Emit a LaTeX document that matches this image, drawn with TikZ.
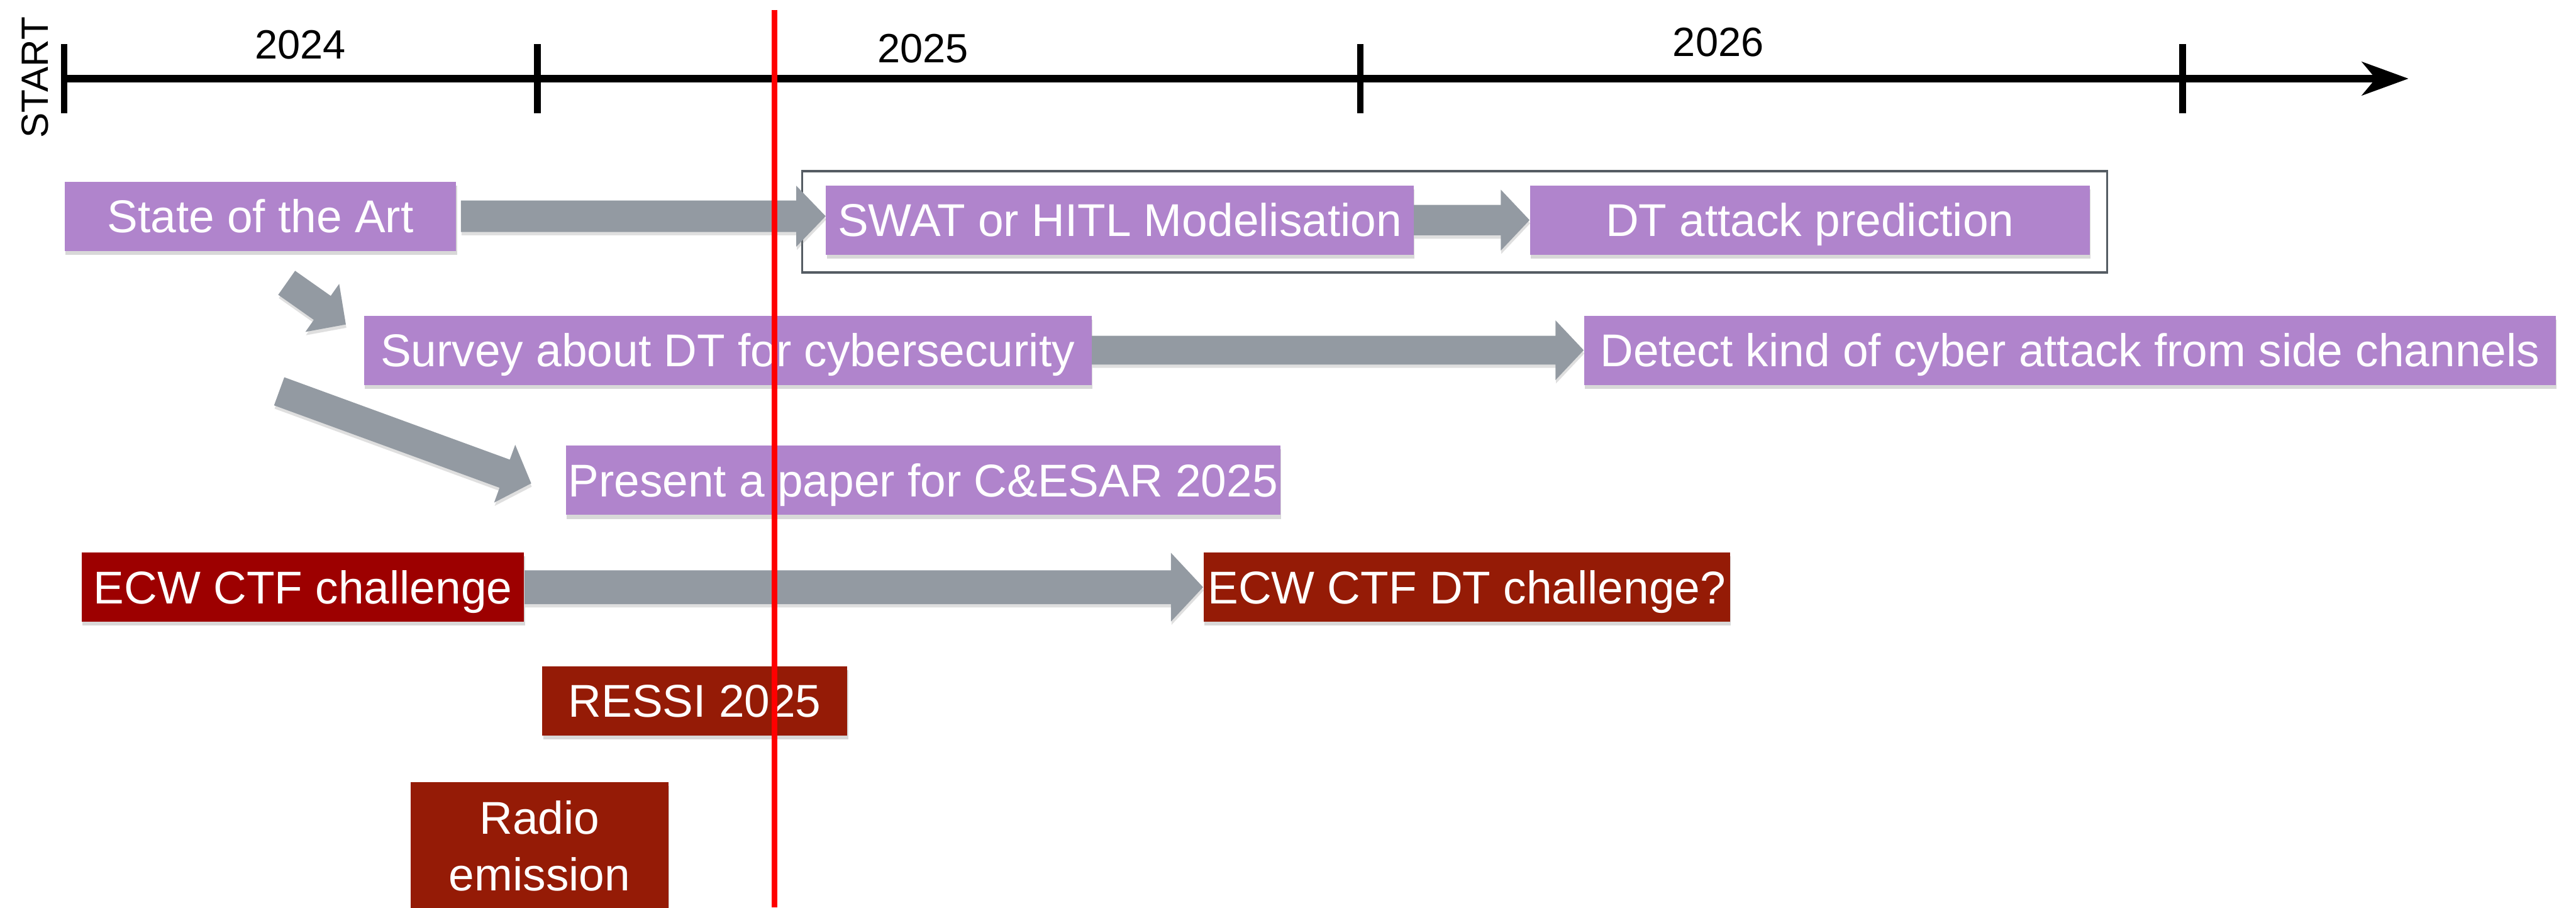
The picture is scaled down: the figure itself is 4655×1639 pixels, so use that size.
\documentclass[tikz,border=0pt]{standalone}
\usepackage{fontspec}
\setmainfont{Liberation Sans}
\usetikzlibrary{calc,shadows}
\definecolor{purp}{HTML}{B084CC}
\definecolor{agray}{HTML}{939AA2}
\definecolor{redA}{HTML}{9D0000}
\definecolor{redB}{HTML}{951B06}
\definecolor{framegray}{HTML}{555C63}
\definecolor{nowred}{HTML}{FF0000}
\newcommand\boxfont{\fontsize{23.6pt}{28pt}\selectfont}
\newcommand\yearfont{\fontsize{21pt}{25pt}\selectfont}
% #1 tail, #2 tip, #3 body half width, #4 head half width, #5 head length
\newcommand\fatarrow[5]{%
  \coordinate (fa-h) at ($(#2)!#5!(#1)$);
  \fill[arrowbody] ($(#1)!#3!90:(#2)$) -- ($(fa-h)!#3!90:(#2)$) -- ($(fa-h)!#4!90:(#2)$) -- (#2)
    -- ($(fa-h)!#4!-90:(#2)$) -- ($(fa-h)!#3!-90:(#2)$) -- ($(#1)!#3!-90:(#2)$) -- cycle;}
\begin{document}
\begin{tikzpicture}[x=0.01cm, y=-0.01cm,
  box/.style={rectangle, inner sep=0pt, minimum height=1.25cm, text=white, font=\boxfont,
    text height=16.9pt, text depth=0pt,
    drop shadow={shadow xshift=0.015cm, shadow yshift=-0.07cm, opacity=0.3}},
  pbox/.style={box, fill=purp},
  rboxA/.style={box, fill=redA},
  rboxB/.style={box, fill=redB},
  arrowbody/.style={fill=agray, drop shadow={shadow xshift=0.01cm, shadow yshift=-0.06cm, opacity=0.25}},
  year/.style={font=\yearfont, text height=15.1pt, text depth=0pt, inner sep=0pt},
  tickmark/.style={line width=0.12cm},
]
\useasboundingbox (0,0) rectangle (4655,1639);
\clip (0,0) rectangle (4655,1639);
\fill[white] (0,0) rectangle (4655,1639);

% group frame
\node[draw=framegray, line width=0.04cm, minimum width=23.57cm, minimum height=1.83cm, inner sep=0pt] (grp) at (2628.5,400.5) {};

% boxes
\node[pbox, minimum width=7.07cm] (state) at (470.5,390.5) {State of the Art};
\node[pbox, minimum width=10.61cm] (swat) at (2023.5,397.5) {SWAT or HITL Modelisation};
\node[pbox, minimum width=10.11cm] (dt) at (3270.5,397.5) {DT attack prediction};
\node[pbox, minimum width=13.14cm] (survey) at (1315,632.5) {Survey about DT for cybersecurity};
\node[pbox, minimum width=17.55cm] (detect) at (3740.5,632.5) {Detect kind of cyber attack from side channels};
\node[pbox, minimum width=12.90cm] (paper) at (1668,867.5) {Present a paper for C\&ESAR 2025};
\node[rboxA, minimum width=7.99cm] (ecw) at (547.5,1060.5) {ECW CTF challenge};
\node[rboxB, minimum width=9.51cm] (ecwdt) at (2650.5,1060.5) {ECW CTF DT challenge?};
\node[rboxB, minimum width=5.51cm] (ressi) at (1255.5,1265.5) {RESSI 2025};
\node[rboxB, minimum width=4.66cm, minimum height=3.0cm, anchor=north] (radio) at (975,1412) {};
\node[font=\boxfont, text=white, anchor=base, inner sep=0pt] (radio1) at (975,1506) {Radio};
\node[font=\boxfont, text=white, anchor=base, inner sep=0pt] (radio2) at (975,1609) {emission};

% fat arrows
\coordinate (t1) at ($(state.east)+(8,0)$);
\coordinate (h1) at (swat.west |- t1);
\fatarrow{t1}{h1}{0.285cm}{0.55cm}{0.53cm}
\fatarrow{swat.east}{dt.west}{0.275cm}{0.55cm}{0.52cm}
\fatarrow{survey.east}{detect.west}{0.26cm}{0.54cm}{0.51cm}
\fatarrow{ecw.east}{ecwdt.west}{0.305cm}{0.62cm}{0.58cm}
\coordinate (t5) at ($(state.south)+(47.5,57)$);
\coordinate (h5) at ($(survey.west)+(-32,-46.5)$);
\fatarrow{t5}{h5}{0.265cm}{0.53cm}{0.52cm}
\coordinate (t6) at ($(state.south)+(34,253)$);
\coordinate (h6) at ($(paper.west)+(-62,5.5)$);
\fatarrow{t6}{h6}{0.27cm}{0.555cm}{0.51cm}

% timeline axis
\coordinate (ax0) at (117,142);
\coordinate (axin) at (4293,142);
\coordinate (axtip) at (4352,142);
\draw[line width=0.13cm] (ax0) -- (axin);
\fill (axtip) -- (4267,111) -- (axin) -- (4267,173) -- cycle;
\foreach \x in {116,971,2458,3944} \draw[tickmark] (\x,80) -- (\x,205);

% labels
\node[year, rotate=90, font=\fontsize{19.5pt}{23pt}\selectfont, text height=14pt] (start) at (62,140) {START};
\node[year] (y2024) at (543,80) {2024};
\node[year] (y2025) at (1668,87) {2025};
\node[year] (y2026) at (3105,75) {2026};

% current date line
\coordinate (now0) at (1400,18);
\coordinate (now1) at (1400,1639);
\draw[nowred, line width=0.1cm] (now0) -- (now1);
\end{tikzpicture}
\end{document}
